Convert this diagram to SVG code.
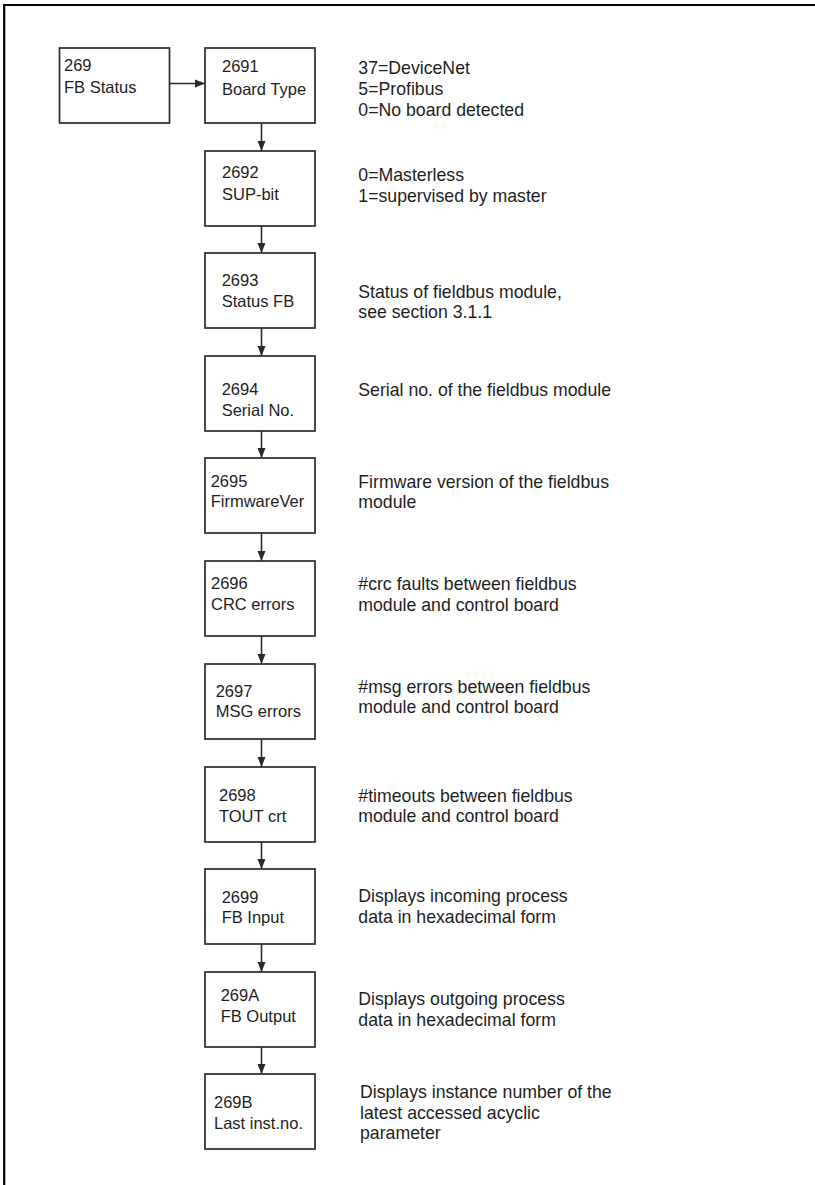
<svg xmlns="http://www.w3.org/2000/svg" width="815" height="1185" viewBox="0 0 815 1185">
<style>
.box{fill:#fff;stroke:#2a2a2a;stroke-width:1.7}
.nt{font-family:"Liberation Sans",Arial,sans-serif;font-size:16.5px;fill:#1e1e1e}
.dt{font-family:"Liberation Sans",Arial,sans-serif;font-size:17.7px;fill:#1e1e1e}
.con{stroke:#2a2a2a;stroke-width:1.6;fill:none;marker-end:url(#ah)}
</style>
<defs>
<marker id="ah" markerUnits="userSpaceOnUse" markerWidth="10" markerHeight="10" viewBox="0 0 10 10" refX="10" refY="5" orient="auto">
<path d="M0,1 L10,5 L0,9 Z" fill="#2a2a2a"/>
</marker>
</defs>
<rect width="815" height="1185" fill="#fff"/>
<g id="frame" stroke="#000" stroke-width="2.2" fill="none">
<line x1="3" y1="5" x2="815" y2="5"/>
<line x1="4.2" y1="4" x2="4.2" y2="1185"/>
</g>
<g id="connectors">
<line class="con" x1="170" y1="83.5" x2="205" y2="83.5"/>
<line class="con" x1="261.5" y1="123" x2="261.5" y2="151"/>
<line class="con" x1="261.5" y1="226" x2="261.5" y2="253"/>
<line class="con" x1="261.5" y1="328" x2="261.5" y2="356"/>
<line class="con" x1="261.5" y1="431" x2="261.5" y2="458"/>
<line class="con" x1="261.5" y1="533" x2="261.5" y2="561"/>
<line class="con" x1="261.5" y1="636" x2="261.5" y2="664"/>
<line class="con" x1="261.5" y1="739" x2="261.5" y2="767"/>
<line class="con" x1="261.5" y1="842" x2="261.5" y2="869"/>
<line class="con" x1="261.5" y1="944" x2="261.5" y2="972"/>
<line class="con" x1="261.5" y1="1047" x2="261.5" y2="1074"/>
</g>
<g id="n269"><rect class="box" x="59.5" y="48" width="110" height="75"/>
<text class="nt" x="64" y="70.5">269</text><text class="nt" x="64" y="92.5">FB Status</text></g>
<g id="n2691"><rect class="box" x="205" y="48" width="110" height="75"/>
<text class="nt" x="222" y="72.3">2691</text><text class="nt" x="222" y="94.5">Board Type</text></g>
<g id="n2692"><rect class="box" x="205" y="151" width="110" height="75"/>
<text class="nt" x="222" y="178.3">2692</text><text class="nt" x="222" y="199.5">SUP-bit</text></g>
<g id="n2693"><rect class="box" x="205" y="253" width="110" height="75"/>
<text class="nt" x="221.7" y="286">2693</text><text class="nt" x="221.7" y="307.3">Status FB</text></g>
<g id="n2694"><rect class="box" x="205" y="356" width="110" height="75"/>
<text class="nt" x="221.7" y="395">2694</text><text class="nt" x="221.7" y="415.7">Serial No.</text></g>
<g id="n2695"><rect class="box" x="205" y="458" width="110" height="75"/>
<text class="nt" x="210.7" y="486.7">2695</text><text class="nt" x="210.7" y="507">FirmwareVer</text></g>
<g id="n2696"><rect class="box" x="205" y="561" width="110" height="75"/>
<text class="nt" x="211" y="589.3">2696</text><text class="nt" x="211" y="610">CRC errors</text></g>
<g id="n2697"><rect class="box" x="205" y="664" width="110" height="75"/>
<text class="nt" x="215.7" y="696.5">2697</text><text class="nt" x="215.7" y="716.7">MSG errors</text></g>
<g id="n2698"><rect class="box" x="205" y="767" width="110" height="75"/>
<text class="nt" x="219" y="800.7">2698</text><text class="nt" x="219" y="821.7">TOUT crt</text></g>
<g id="n2699"><rect class="box" x="205" y="869" width="110" height="75"/>
<text class="nt" x="221.7" y="902.7">2699</text><text class="nt" x="221.7" y="923.3">FB Input</text></g>
<g id="n269A"><rect class="box" x="205" y="972" width="110" height="75"/>
<text class="nt" x="220.7" y="1001">269A</text><text class="nt" x="220.7" y="1021.7">FB Output</text></g>
<g id="n269B"><rect class="box" x="205" y="1074" width="110" height="75"/>
<text class="nt" x="214" y="1107.7">269B</text><text class="nt" x="214" y="1129">Last inst.no.</text></g>
<g id="descriptions">
<text class="dt" x="358.3" y="74">37=DeviceNet</text>
<text class="dt" x="358.3" y="95">5=Profibus</text>
<text class="dt" x="358.3" y="116">0=No board detected</text>
<text class="dt" x="358.3" y="180.7">0=Masterless</text>
<text class="dt" x="358.3" y="201.7">1=supervised by master</text>
<text class="dt" x="358.3" y="297.7">Status of fieldbus module,</text>
<text class="dt" x="358.3" y="318.3">see section 3.1.1</text>
<text class="dt" x="358.3" y="395.7">Serial no. of the fieldbus module</text>
<text class="dt" x="358.3" y="487.7">Firmware version of the fieldbus</text>
<text class="dt" x="358.3" y="508.3">module</text>
<text class="dt" x="358.3" y="590">#crc faults between fieldbus</text>
<text class="dt" x="358.3" y="611">module and control board</text>
<text class="dt" x="358.3" y="692.7">#msg errors between fieldbus</text>
<text class="dt" x="358.3" y="713">module and control board</text>
<text class="dt" x="358.3" y="801.7">#timeouts between fieldbus</text>
<text class="dt" x="358.3" y="822.3">module and control board</text>
<text class="dt" x="358.3" y="902.3">Displays incoming process</text>
<text class="dt" x="358.3" y="922.7">data in hexadecimal form</text>
<text class="dt" x="358.3" y="1005">Displays outgoing process</text>
<text class="dt" x="358.3" y="1025.7">data in hexadecimal form</text>
<text class="dt" x="360" y="1097.7">Displays instance number of the</text>
<text class="dt" x="360" y="1119">latest accessed acyclic</text>
<text class="dt" x="360" y="1139.3">parameter</text>
</g>
</svg>
